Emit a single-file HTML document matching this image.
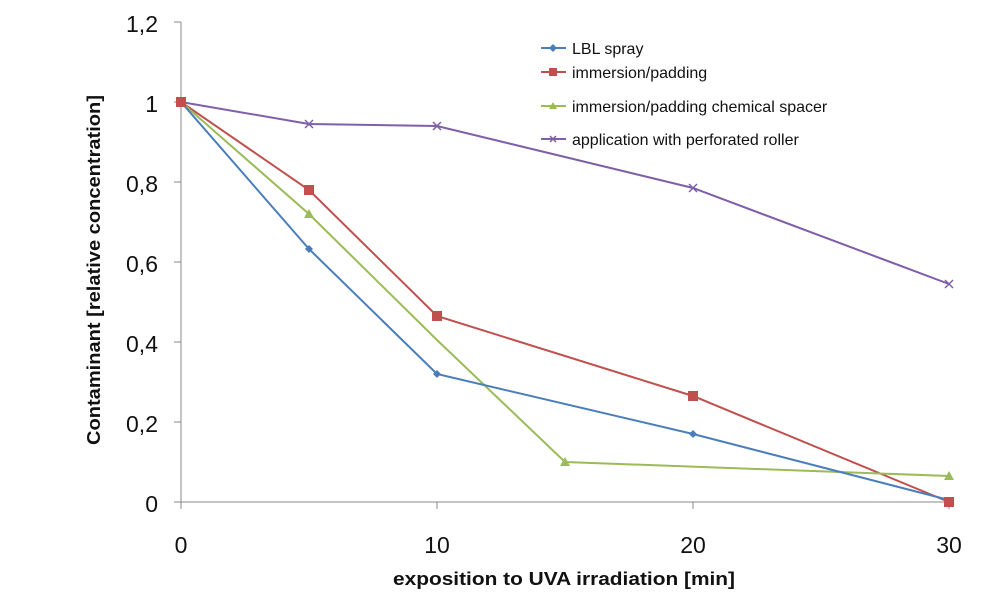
<!DOCTYPE html><html><head><style>body{margin:0;background:#fff}</style></head><body>
<svg width="987" height="600" xmlns="http://www.w3.org/2000/svg" font-family="Liberation Sans, sans-serif">
<g stroke="#888" stroke-width="1">
<line x1="181" y1="22" x2="181" y2="502"/>
<line x1="181" y1="502" x2="949" y2="502"/>
<line x1="174" y1="22" x2="181" y2="22"/><line x1="174" y1="102" x2="181" y2="102"/><line x1="174" y1="182" x2="181" y2="182"/><line x1="174" y1="262" x2="181" y2="262"/><line x1="174" y1="342" x2="181" y2="342"/><line x1="174" y1="422" x2="181" y2="422"/><line x1="174" y1="502" x2="181" y2="502"/>
<line x1="181" y1="502" x2="181" y2="509"/><line x1="437" y1="502" x2="437" y2="509"/><line x1="693" y1="502" x2="693" y2="509"/><line x1="949" y1="502" x2="949" y2="509"/>
</g>
<g font-size="23" fill="#111" text-anchor="end">
<text x="158" y="32">1,2</text><text x="158" y="112">1</text><text x="158" y="192">0,8</text><text x="158" y="272">0,6</text><text x="158" y="352">0,4</text><text x="158" y="432">0,2</text><text x="158" y="512">0</text>
</g>
<g font-size="23" fill="#111" text-anchor="middle">
<text x="181" y="553">0</text><text x="437" y="553">10</text><text x="693" y="553">20</text><text x="949" y="553">30</text>
</g>
<text x="393" y="585" font-size="18" font-weight="bold" fill="#111" textLength="342" lengthAdjust="spacingAndGlyphs">exposition to UVA irradiation [min]</text>
<text transform="translate(100,445) rotate(-90)" font-size="18" font-weight="bold" fill="#111" textLength="350" lengthAdjust="spacingAndGlyphs">Contaminant  [relative concentration]</text>
<g fill="none" stroke-width="2">
<polyline stroke="#7f5fa8" points="181,102 309,124 437,126 693,188 949,284"/>
<polyline stroke="#c0504d" points="181,102 309,190 437,316 693,396 949,502"/>
<polyline stroke="#9bbb59" points="181,102 309,214 437,340 565,462 949,476"/>
<polyline stroke="#4a7ebb" points="181,102 309,249 437,374 693,434 949,500"/>
</g>
<g stroke="#7f5fa8" stroke-width="1.5"><path d="M305,120l8,8m0,-8l-8,8M433,122l8,8m0,-8l-8,8M689,184l8,8m0,-8l-8,8M945,280l8,8m0,-8l-8,8"/></g>
<g fill="#c0504d"><rect x="176" y="97" width="10" height="10"/><rect x="304" y="185" width="10" height="10"/><rect x="432" y="311" width="10" height="10"/><rect x="688" y="391" width="10" height="10"/><rect x="944" y="497" width="10" height="10"/></g>
<g fill="#9bbb59"><path d="M309,209l5,9h-10zM565,457l5,9h-10zM949,471l5,9h-10z"/></g>
<g fill="#4a7ebb"><path d="M309,245l4,4l-4,4l-4,-4zM437,370l4,4l-4,4l-4,-4zM693,430l4,4l-4,4l-4,-4z"/></g>
<g stroke-width="2"><line x1="541" y1="48" x2="566" y2="48" stroke="#4a7ebb"/><line x1="541" y1="72" x2="566" y2="72" stroke="#c0504d"/><line x1="541" y1="106" x2="566" y2="106" stroke="#9bbb59"/><line x1="541" y1="139" x2="566" y2="139" stroke="#7f5fa8"/></g>
<path d="M553,44l4,4l-4,4l-4,-4z" fill="#4a7ebb"/><rect x="549" y="68" width="8" height="8" fill="#c0504d"/><path d="M553,102l4,7h-8z" fill="#9bbb59"/><path d="M550,136l6,6m0,-6l-6,6" stroke="#7f5fa8" stroke-width="1.5"/>
<g font-size="16" fill="#111"><text x="572" y="54">LBL spray</text><text x="572" y="78">immersion/padding</text><text x="572" y="112">immersion/padding chemical spacer</text><text x="572" y="145">application with perforated roller</text></g>
</svg></body></html>
